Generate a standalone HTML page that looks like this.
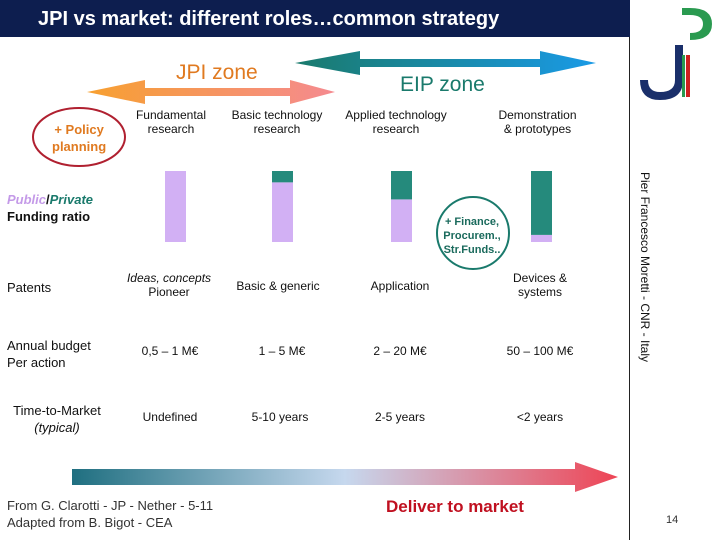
<!DOCTYPE html>
<html><head><meta charset="utf-8"><style>
body{margin:0;width:720px;height:540px;background:#fff;overflow:hidden;font-family:"Liberation Sans",sans-serif;position:relative}
.t{position:absolute;font-size:12px;color:#111;text-align:center;white-space:nowrap}
</style></head><body>
<div style="position:absolute;left:0;top:0;width:630px;height:37px;background:#0d1e4f"></div>
<div style="position:absolute;left:38px;top:8px;font-size:20px;color:#fff;font-weight:bold">JPI vs market: different roles…common strategy</div>
<div style="position:absolute;left:629px;top:37px;width:1px;height:503px;background:#222"></div>
<svg width="720" height="540" style="position:absolute;left:0;top:0">
<defs>
<linearGradient id="jg" x1="0" x2="1"><stop offset="0" stop-color="#f7a030"/><stop offset="1" stop-color="#f58a90"/></linearGradient>
<linearGradient id="eg" x1="0" x2="1"><stop offset="0" stop-color="#1a7a6c"/><stop offset="1" stop-color="#1a9ae6"/></linearGradient>
<linearGradient id="bg" x1="0" x2="1"><stop offset="0" stop-color="#1f6f80"/><stop offset="0.5" stop-color="#c6d8ee"/><stop offset="1" stop-color="#ee4455"/></linearGradient>
</defs>
<polygon points="87,92 145,80 145,88 290,88 290,80 335,92 290,104 290,96 145,96 145,104" fill="url(#jg)"/>
<polygon points="295,63 360,51 360,59 540,59 540,51 596,63 540,75 540,67 360,67 360,75" fill="url(#eg)"/>
<polygon points="72,469 575,469 575,462 618,477 575,492 575,485 72,485" fill="url(#bg)"/>
<ellipse cx="79" cy="137" rx="46" ry="29" fill="none" stroke="#b02030" stroke-width="2"/>
<ellipse cx="473" cy="233" rx="36" ry="36" fill="none" stroke="#1a7a6c" stroke-width="2"/>
<g id="bars"></g>
<path d="M675 45 V80 Q675 92 660 92 Q648 92 648 80 H640 Q640 100 660 100 Q683 100 683 80 V45Z" fill="#1a2f6a"/>
<path d="M682 8 H690 Q712 8 712 24 Q712 40 690 40 V33 Q703 33 703 24 Q703 15 690 15 H682Z" fill="#2a9a50"/>
<rect x="682" y="55" width="3" height="42" fill="#2a9a50"/>
<rect x="686" y="55" width="4" height="42" fill="#d02020"/>
</svg>
<div class="t" style="left:176px;top:61px;font-size:21px;color:#e07a20">JPI zone</div>
<div class="t" style="left:400px;top:73px;font-size:21px;color:#1a7a6c">EIP zone</div>
<div class="t" style="left:52px;top:121px;font-size:13px;color:#e07a20;line-height:17px;font-weight:bold">+ Policy<br>planning</div>
<div class="t" style="left:131px;top:108px;width:80px">Fundamental<br>research</div>
<div class="t" style="left:222px;top:108px;width:110px">Basic technology<br>research</div>
<div class="t" style="left:336px;top:108px;width:120px">Applied technology<br>research</div>
<div class="t" style="left:480px;top:108px;width:115px">Demonstration<br>&amp; prototypes</div>
<div class="t" style="left:7px;top:191px;text-align:left;font-size:13px;line-height:17px;font-weight:bold"><span style="color:#c49ae8;font-style:italic">Public</span>/<span style="color:#1a7a6c;font-style:italic">Private</span><br>Funding ratio</div>
<div class="t" style="left:437px;top:215px;width:70px;font-size:11px;color:#1a6a5c;line-height:14px;font-weight:bold">+ Finance,<br>Procurem.,<br>Str.Funds..</div>
<div class="t" style="left:7px;top:280px;font-size:13px">Patents</div>
<div class="t" style="left:115px;top:271px;width:108px;font-style:italic">Ideas, concepts<br><span style="font-style:normal">Pioneer</span></div>
<div class="t" style="left:228px;top:279px;width:100px">Basic &amp; generic</div>
<div class="t" style="left:350px;top:279px;width:100px">Application</div>
<div class="t" style="left:490px;top:271px;width:100px">Devices &amp;<br>systems</div>
<div class="t" style="left:7px;top:337px;text-align:left;font-size:13px;line-height:17px">Annual budget<br>Per action</div>
<div class="t" style="left:120px;top:344px;width:100px">0,5 – 1 M€</div>
<div class="t" style="left:232px;top:344px;width:100px">1 – 5 M€</div>
<div class="t" style="left:350px;top:344px;width:100px">2 – 20 M€</div>
<div class="t" style="left:490px;top:344px;width:100px">50 – 100 M€</div>
<div class="t" style="left:5px;top:402px;width:104px;font-size:13px;line-height:17px">Time-to-Market<br><i>(typical)</i></div>
<div class="t" style="left:120px;top:410px;width:100px">Undefined</div>
<div class="t" style="left:230px;top:410px;width:100px">5-10 years</div>
<div class="t" style="left:350px;top:410px;width:100px">2-5 years</div>
<div class="t" style="left:490px;top:410px;width:100px">&lt;2 years</div>
<div class="t" style="left:7px;top:497px;text-align:left;font-size:13px;color:#333;line-height:17px">From G. Clarotti - JP - Nether - 5-11<br>Adapted from B. Bigot - CEA</div>
<div class="t" style="left:386px;top:497px;font-size:17px;color:#c01020;font-weight:bold">Deliver to market</div>
<div class="t" style="left:666px;top:514px;font-size:11px;color:#333">14</div>
<div class="t" style="left:545px;top:260px;width:200px;font-size:12px;transform:rotate(90deg);transform-origin:center">Pier Francesco Moretti - CNR - Italy</div>
<script>
const stages=["Fundamental","Basic","Applied","Demo"];
const privateShare=[0,0.16,0.4,0.9];
const barX=[165,272,391,531];
const top0=171,bot0=242,bw=21;
const g=document.getElementById('bars');
const ns="http://www.w3.org/2000/svg";
stages.forEach((s,i)=>{
 const h=bot0-top0, ph=h*privateShare[i];
 const r1=document.createElementNS(ns,'rect');
 
 
 r1.setAttribute('x',barX[i]);r1.setAttribute('y',top0+ph);r1.setAttribute('width',bw);r1.setAttribute('height',h-ph);r1.setAttribute('fill','#d2b0f4');
 g.appendChild(r1);
 const r2=document.createElementNS(ns,'rect');
 
 
 r2.setAttribute('x',barX[i]);r2.setAttribute('y',top0);r2.setAttribute('width',bw);r2.setAttribute('height',ph);r2.setAttribute('fill','#258a7c');
 g.appendChild(r2);
});
</script>
</body></html>
